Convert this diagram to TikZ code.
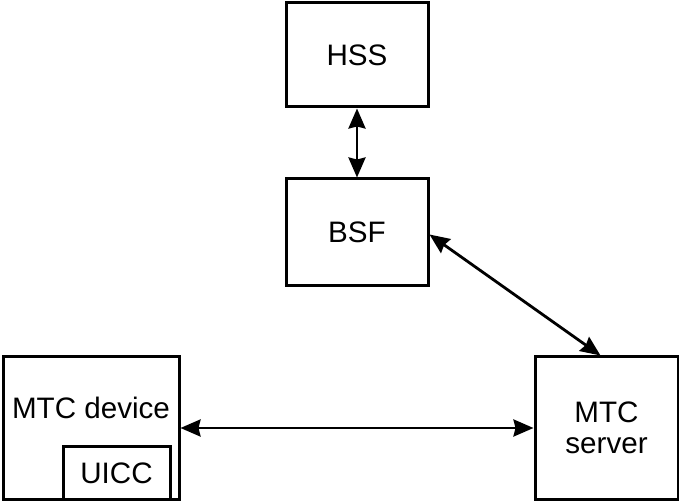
\documentclass[tikz,border=0pt]{standalone}
\usepackage{fontspec}
\setmainfont{Liberation Sans}
\usetikzlibrary{arrows.meta}
\begin{document}
\begin{tikzpicture}[x=1pt,y=1pt,
  box/.style={draw=black,line width=3pt,inner sep=0pt},
  lbl/.style={font=\fontsize{29.6}{31}\selectfont,align=center,inner sep=0pt},
  link/.style={line width=2.8pt,{Stealth[length=20pt,width=17pt,inset=2pt]}-{Stealth[length=20pt,width=17pt,inset=2pt]}}]
  \useasboundingbox (0,0) rectangle (679,500);
  % entities
  \node[box,minimum width=142pt,minimum height=104pt] (hss) at (357,445) {};
  \node[lbl] (hsst) at (hss.center) {HSS};
  \node[box,minimum width=142pt,minimum height=107pt] (bsf) at (357,267.5) {};
  \node[lbl] (bsft) at (bsf.center) {BSF};
  \node[box,minimum width=176pt,minimum height=142pt] (dev) at (91,72) {};
  \node[lbl] (devt) at (91,92) {MTC device};
  \node[box,minimum width=107pt,minimum height=52pt] (uicc) at (116.5,27) {};
  \node[lbl] (uicct) at (uicc.center) {UICC};
  \node[box,minimum width=143pt,minimum height=142pt] (srv) at (606.5,72) {};
  \node[lbl] (srvt) at (srv.center) {MTC\\server};
  % interfaces
  \draw[link] (hss.south) -- (bsf.north);
  \draw[link] ([yshift=-2pt]bsf.east) -- ([xshift=-6pt]srv.north);
  \draw[link] (dev.east) -- (srv.west);
\end{tikzpicture}
\end{document}
